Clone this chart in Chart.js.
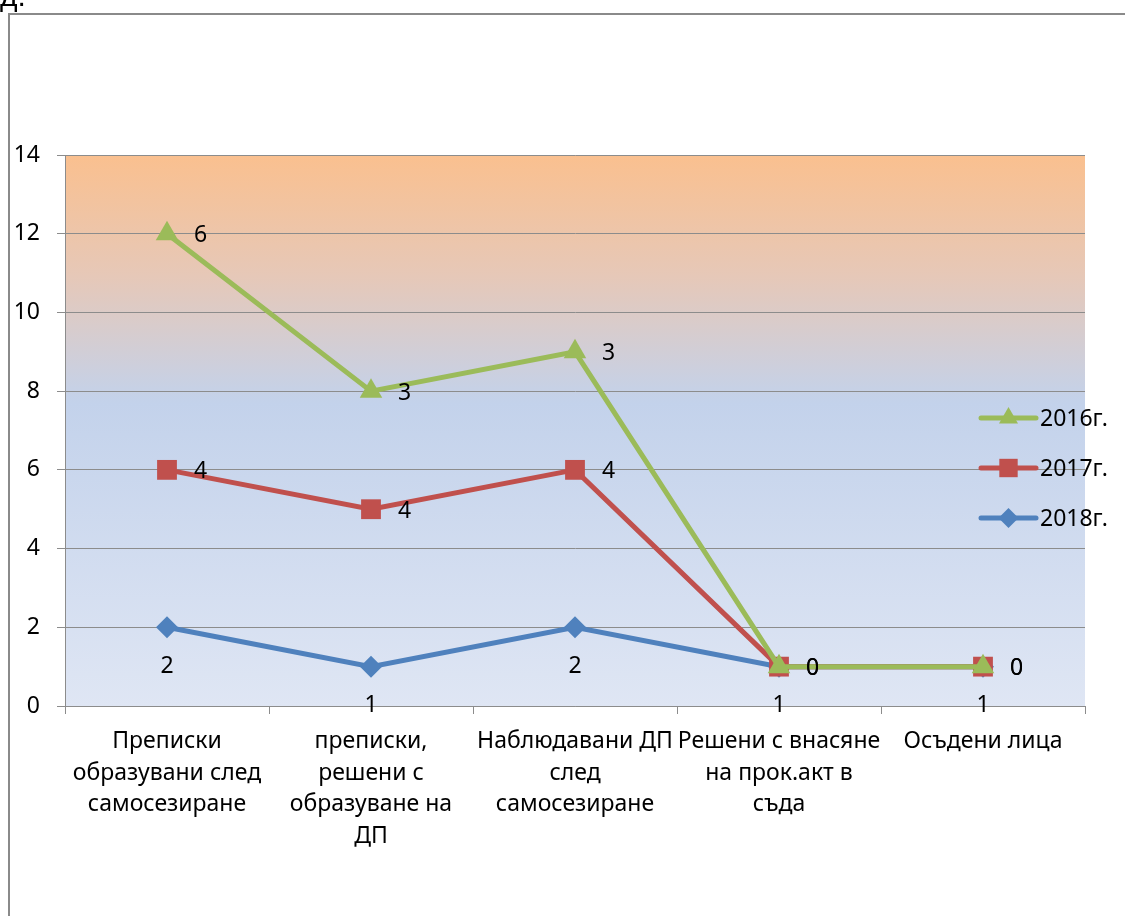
<!DOCTYPE html>
<html>
<head>
<meta charset="utf-8">
<script src="https://cdn.jsdelivr.net/npm/chart.js@4.4.1/dist/chart.umd.min.js"></script>
<style>
  html, body { margin: 0; padding: 0; background: #fff; }
  #wrap { position: relative; width: 1125px; height: 916px; overflow: hidden; }
  #cut { position: absolute; left: 0; top: -21px; font: 30px "Liberation Sans", sans-serif; color: #000; }
</style>
</head>
<body>
<div id="wrap">
  <div id="cut">д.</div>
  <canvas id="lineChart"></canvas>
</div>
<script>
// categories (x axis)
var categories = [
  ["Преписки", "образувани след", "самосезиране"],
  ["преписки,", "решени с", "образуване на", "ДП"],
  ["Наблюдавани ДП", "след", "самосезиране"],
  ["Решени с внасяне", "на прок.акт в", "съда"],
  ["Осъдени лица"]
];
// values shown on the chart (the series are stacked: 2018 at the bottom)
var values2018 = [2, 1, 2, 1, 1];
var values2017 = [4, 4, 4, 0, 0];
var values2016 = [6, 3, 3, 0, 0];
var seriesNames = ["2016г.", "2017г.", "2018г."];
var yTicks = [0, 2, 4, 6, 8, 10, 12, 14];

var FONT = '"Noto Sans", "DejaVu Sans", sans-serif';
var FSIZE = 23;

// running totals, like Excel's stacked line
function addUp(a, b){
    return a.map(function(v, i){ return v + b[i]; });
}
var top2018 = values2018.slice();
var top2017 = addUp(top2018, values2017);
var top2016 = addUp(top2017, values2016);

var labelPlugin = {
    id: 'valueLabels',
    afterDatasetsDraw: function(chart){
        var ctx = chart.ctx;
        ctx.save();
        ctx.font = FSIZE + 'px ' + FONT;
        ctx.fillStyle = '#000';
        chart.data.datasets.forEach(function(ds, di){
            var meta = chart.getDatasetMeta(di);
            meta.data.forEach(function(pt, i){
                var txt = String(ds.shown[i]);
                ctx.textBaseline = 'middle';
                if(ds.labelPos === 'below'){
                    ctx.textAlign = 'center';
                    ctx.fillText(txt, pt.x, pt.y + 39);
                } else {
                    ctx.textAlign = 'left';
                    ctx.fillText(txt, pt.x + 27, pt.y + 2);
                }
            });
        });
        ctx.restore();
    }
};

var framePlugin = {
    id: 'frame',
    beforeDraw: function(chart){
        var ctx = chart.ctx, a = chart.chartArea;
        ctx.save();
        // outer frame
        ctx.strokeStyle = '#8a8a8a';
        ctx.lineWidth = 2;
        ctx.beginPath();
        ctx.moveTo(9, chart.height + 5);
        ctx.lineTo(9, 14);
        ctx.lineTo(chart.width + 5, 14);
        ctx.stroke();
        // plot area gradient
        var g = ctx.createLinearGradient(0, a.top, 0, a.bottom);
        g.addColorStop(0, '#fac08f');
        g.addColorStop(0.22, '#e6c8b8');
        g.addColorStop(0.45, '#c3d2eb');
        g.addColorStop(1, '#dfe6f4');
        ctx.fillStyle = g;
        ctx.fillRect(a.left, a.top, a.right - a.left, a.bottom - a.top);
        ctx.restore();
    }
};

var legendPlugin = {
    id: 'sideLegend',
    afterDraw: function(chart){
        var ctx = chart.ctx, a = chart.chartArea;
        var x0 = a.right - 104, x1 = a.right - 49;
        var y = a.top + 263;
        ctx.save();
        chart.data.datasets.forEach(function(ds){
            ctx.strokeStyle = ds.borderColor;
            ctx.lineWidth = 5;
            ctx.lineCap = 'round';
            ctx.beginPath();
            ctx.moveTo(x0, y);
            ctx.lineTo(x1, y);
            ctx.stroke();
            ctx.fillStyle = ds.backgroundColor;
            Chart.helpers.drawPoint(ctx, {
                pointStyle: ds.pointStyle,
                radius: ds.legendRadius,
                rotation: 0,
                borderWidth: 0
            }, (x0 + x1) / 2, y);
            ctx.fillStyle = '#000';
            ctx.font = FSIZE + 'px ' + FONT;
            ctx.textAlign = 'left';
            ctx.textBaseline = 'middle';
            ctx.fillText(ds.label, x1 + 4, y + 1);
            y += 50;
        });
        ctx.restore();
    }
};

var canvas = document.getElementById('lineChart');
var lineChart = new Chart(canvas, {
    type: 'line',
    data: {
        labels: categories,
        datasets: [{
            label: seriesNames[0],
            data: top2016,
            shown: values2016,
            labelPos: 'right',
            borderColor: '#9bbb59',
            backgroundColor: '#9bbb59',
            borderWidth: 5,
            pointStyle: 'triangle',
            pointRadius: 13,
            pointBorderWidth: 0,
            legendRadius: 11
        }, {
            label: seriesNames[1],
            data: top2017,
            shown: values2017,
            labelPos: 'right',
            borderColor: '#c0504d',
            backgroundColor: '#c0504d',
            borderWidth: 5,
            pointStyle: 'rect',
            pointRadius: 14,
            pointBorderWidth: 0,
            legendRadius: 13
        }, {
            label: seriesNames[2],
            data: top2018,
            shown: values2018,
            labelPos: 'below',
            borderColor: '#4f81bd',
            backgroundColor: '#4f81bd',
            borderWidth: 5,
            pointStyle: 'rectRot',
            pointRadius: 11,
            pointBorderWidth: 0,
            legendRadius: 10
        }]
    },
    options: {
        responsive: true,
        maintainAspectRatio: false,
        animation: false,
        events: [],
        layout: { padding: { top: 155, right: 40, left: 0, bottom: 0 } },
        elements: { line: { tension: 0 } },
        plugins: {
            legend: { display: false },
            tooltip: { enabled: false }
        },
        scales: {
            x: {
                offset: true,
                grid: { offset: true, drawOnChartArea: false, drawTicks: true, tickLength: 8, color: '#8c8c8c' },
                border: { color: '#8c8c8c', width: 1 },
                ticks: {
                    autoSkip: false, maxRotation: 0, padding: 12, color: '#000',
                    font: { family: FONT, size: FSIZE, lineHeight: 1.37 }
                },
                afterFit: function(scale){ scale.height = 916 - 706; }
            },
            y: {
                min: yTicks[0],
                max: yTicks[yTicks.length - 1],
                grid: { color: '#8c8c8c', tickLength: 8 },
                border: { color: '#8c8c8c', width: 1 },
                ticks: {
                    stepSize: yTicks[1] - yTicks[0], padding: 17, color: '#000',
                    font: { family: FONT, size: FSIZE }
                },
                afterFit: function(scale){ scale.width = 65; }
            }
        }
    },
    plugins: [framePlugin, labelPlugin, legendPlugin]
});
</script>
</body>
</html>
